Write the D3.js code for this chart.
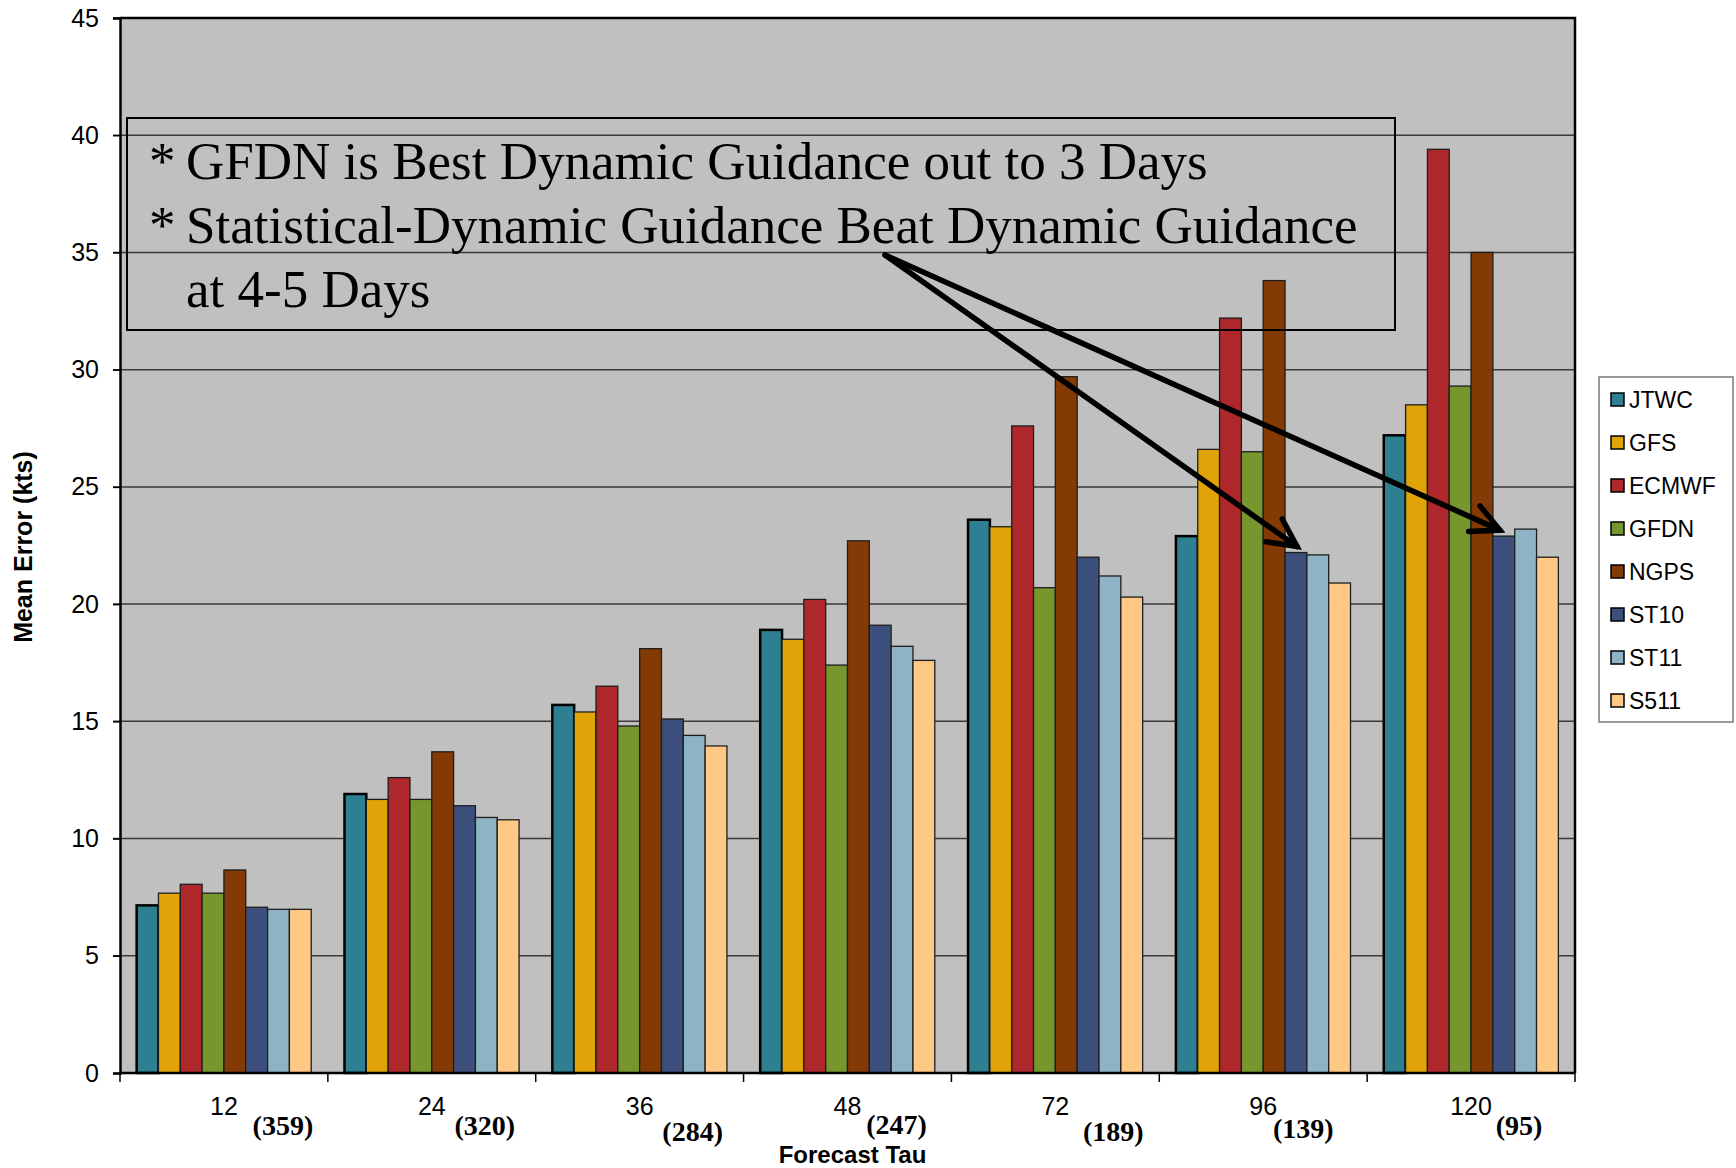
<!DOCTYPE html>
<html lang="en">
<head>
<meta charset="UTF-8">
<title>Mean Error</title>
<script src="https://cdn.jsdelivr.net/npm/d3@7/dist/d3.min.js"></script>
<style>
  body { margin: 0; background: #fff; }
  svg { font-family: "Liberation Sans", Arial, sans-serif; }
</style>
</head>
<body>
<script>
// forecast taus and number of cases
var taus = ["12", "24", "36", "48", "72", "96", "120"];
var cases = ["(359)", "(320)", "(284)", "(247)", "(189)", "(139)", "(95)"];
var models = ["JTWC", "GFS", "ECMWF", "GFDN", "NGPS", "ST10", "ST11", "S511"];
var colors = ["#2e7f92", "#e0a408", "#ae272b", "#76962e", "#843a05", "#3d4f7c", "#8db3c4", "#ffc985"];

// mean error (kts), one array per model, same order as taus
var JTWC  = [7.15, 11.9, 15.7, 18.9, 23.6, 22.9, 27.2];
var GFS   = [7.67, 11.67, 15.4, 18.5, 23.3, 26.6, 28.5];
var ECMWF = [8.05, 12.6, 16.5, 20.2, 27.6, 32.2, 39.4];
var GFDN  = [7.67, 11.67, 14.8, 17.4, 20.7, 26.5, 29.3];
var NGPS  = [8.66, 13.7, 18.1, 22.7, 29.7, 33.8, 35.0];
var ST10  = [7.07, 11.4, 15.1, 19.1, 22.0, 22.2, 22.9];
var ST11  = [6.98, 10.9, 14.4, 18.2, 21.2, 22.1, 23.2];
var S511  = [6.98, 10.8, 13.95, 17.6, 20.3, 20.9, 22.0];
var series = [JTWC, GFS, ECMWF, GFDN, NGPS, ST10, ST11, S511];
var yTicks = [0, 5, 10, 15, 20, 25, 30, 35, 40, 45];

var notes = ["GFDN is Best Dynamic Guidance out to 3 Days",
             "Statistical-Dynamic Guidance Beat Dynamic Guidance",
             "at 4-5 Days"];

var W = 1736, H = 1168;
var pL = 120, pR = 1575, pT = 18, pB = 1073;
var serif = "'Liberation Serif', 'Times New Roman', serif";

var svg = d3.select("body").append("svg")
    .attr("width", W).attr("height", H);

var x0 = d3.scaleBand().domain(taus).range([pL, pR])
    .paddingInner(0.16).paddingOuter(0.08);
var x1 = d3.scaleBand().domain(models).range([0, x0.bandwidth()]);
var y = d3.scaleLinear().domain([0, 45]).range([pB, pT]);
var color = d3.scaleOrdinal().domain(models).range(colors);

// plot background
svg.append("rect")
    .attr("x", pL).attr("y", pT)
    .attr("width", pR - pL).attr("height", pB - pT)
    .style("fill", "#c0c0c0");

// gridlines
svg.append("g").selectAll("line")
    .data(yTicks.slice(1))
    .enter().append("line")
    .attr("x1", pL - 7).attr("x2", pR)
    .attr("y1", function(d) { return y(d); })
    .attr("y2", function(d) { return y(d); })
    .style("stroke", "#3a3a3a").style("stroke-width", 1.5);

// plot frame (top / right)
svg.append("path")
    .attr("d", "M" + pL + "," + pT + "H" + pR + "V" + pB)
    .style("fill", "none").style("stroke", "#000").style("stroke-width", 2.5);

// bars
var groups = svg.append("g").selectAll("g")
    .data(taus)
    .enter().append("g")
    .attr("transform", function(d) { return "translate(" + x0(d) + ",0)"; });

groups.selectAll("rect")
    .data(function(d, i) {
        return models.map(function(m, k) { return { model: m, value: series[k][i] }; });
    })
    .enter().append("rect")
    .attr("x", function(d) { return x1(d.model); })
    .attr("width", x1.bandwidth())
    .attr("y", function(d) { return y(d.value); })
    .attr("height", function(d) { return y(0) - y(d.value); })
    .style("fill", function(d) { return color(d.model); })
    .style("stroke", function(d) { return d.model == "JTWC" ? "#000" : "#1e1e1e"; })
    .style("stroke-width", function(d) { return d.model == "JTWC" ? 2.5 : 1.3; });

// y axis
var yAxis = d3.axisLeft(y).tickValues(yTicks).tickSize(7).tickPadding(14);
var gy = svg.append("g").attr("transform", "translate(" + pL + ",0)").call(yAxis);
gy.select(".domain").style("stroke", "#000").style("stroke-width", 2.5);
gy.selectAll(".tick line").style("stroke", "#000").style("stroke-width", 1.5);
gy.selectAll("text").style("font-size", "25px").style("fill", "#000")
    .style("font-family", "'Liberation Sans', Arial, sans-serif");

// x axis: ticks at group boundaries
var bounds = d3.range(taus.length + 1).map(function(i) { return pL + i * x0.step(); });
svg.append("line")
    .attr("x1", pL).attr("x2", pR).attr("y1", pB).attr("y2", pB)
    .style("stroke", "#000").style("stroke-width", 2.5);
svg.append("g").selectAll("line")
    .data(bounds)
    .enter().append("line")
    .attr("x1", function(d) { return d; }).attr("x2", function(d) { return d; })
    .attr("y1", pB).attr("y2", pB + 9)
    .style("stroke", "#000").style("stroke-width", 1.5);

svg.append("g").selectAll("text")
    .data(taus)
    .enter().append("text")
    .attr("x", function(d) { return x0(d) + x0.bandwidth() / 2; })
    .attr("y", pB + 42)
    .attr("text-anchor", "middle")
    .style("font-size", "25px")
    .text(function(d) { return d; });

// case counts, nudged like the original slide
var nudgeX = [59, 53, 53, 49, 58, 40, 48];
var nudgeY = [0, 0, 6, -1, 6, 3, 0];
svg.append("g").selectAll("text")
    .data(cases)
    .enter().append("text")
    .attr("x", function(d, i) { return x0(taus[i]) + x0.bandwidth() / 2 + nudgeX[i]; })
    .attr("y", function(d, i) { return pB + 62 + nudgeY[i]; })
    .attr("text-anchor", "middle")
    .style("font-family", serif)
    .style("font-weight", "bold")
    .style("font-size", "28px")
    .text(function(d) { return d; });

// axis titles
svg.append("text")
    .attr("x", (pL + pR) / 2 + 5).attr("y", 1163)
    .attr("text-anchor", "middle")
    .style("font-weight", "bold").style("font-size", "24px")
    .text("Forecast Tau");

svg.append("text")
    .attr("transform", "translate(32," + 547 + ") rotate(-90)")
    .attr("text-anchor", "middle")
    .style("font-weight", "bold").style("font-size", "25px")
    .text("Mean Error (kts)");

// legend
var lg = svg.append("g").attr("transform", "translate(1599,377)");
lg.append("rect")
    .attr("width", 134).attr("height", 345)
    .style("fill", "#fff").style("stroke", "#7a7a7a").style("stroke-width", 1.5);
var li = lg.selectAll("g.item")
    .data(models)
    .enter().append("g")
    .attr("class", "item")
    .attr("transform", function(d, i) { return "translate(12," + (23 + i * 43) + ")"; });
li.append("rect")
    .attr("x", 0).attr("y", -7).attr("width", 13).attr("height", 13)
    .style("fill", function(d) { return color(d); })
    .style("stroke", "#000").style("stroke-width", 1.5);
li.append("text")
    .attr("x", 18).attr("y", 8)
    .style("font-size", "23px")
    .text(function(d) { return d; });

// annotation box
var box = { x: 127, y: 118, w: 1268, h: 212 };
svg.append("rect")
    .attr("x", box.x).attr("y", box.y).attr("width", box.w).attr("height", box.h)
    .style("fill", "none").style("stroke", "#000").style("stroke-width", 2);

notes.forEach(function(t, i) {
    if (i < 2) {
        svg.append("text").attr("x", box.x + 22).attr("y", box.y + 61 + i * 64)
            .style("font-family", serif).style("font-size", "53px").text("*");
    }
    svg.append("text").attr("x", box.x + 59).attr("y", box.y + 61 + i * 64)
        .style("font-family", serif).style("font-size", "53px").text(t);
});

// arrows to the statistical-dynamic bars at 96 and 120
svg.append("defs").append("marker")
    .attr("id", "head")
    .attr("markerUnits", "userSpaceOnUse")
    .attr("viewBox", "-34 -20 40 40")
    .attr("markerWidth", 40).attr("markerHeight", 40)
    .attr("refX", 0).attr("refY", 0)
    .attr("orient", "auto")
    .append("path")
    .attr("d", "M-28,-14L0,0L-28,14")
    .style("fill", "none").style("stroke", "#000").style("stroke-width", 5.5)
    .style("stroke-linecap", "round");

var start = [box.x + 758, box.y + 137];
["96", "120"].forEach(function(t, k) {
    var i = taus.indexOf(t);
    var v = ST10[i];
    var tx = x0(t) + x1("ST10") + (k == 0 ? 12 : 7);
    var ty = y(v) - 6;
    svg.append("line")
        .attr("x1", start[0]).attr("y1", start[1])
        .attr("x2", tx).attr("y2", ty)
        .attr("marker-end", "url(#head)")
        .style("stroke", "#000").style("stroke-width", 5.5)
        .style("stroke-linecap", "round");
});
</script>
</body>
</html>
